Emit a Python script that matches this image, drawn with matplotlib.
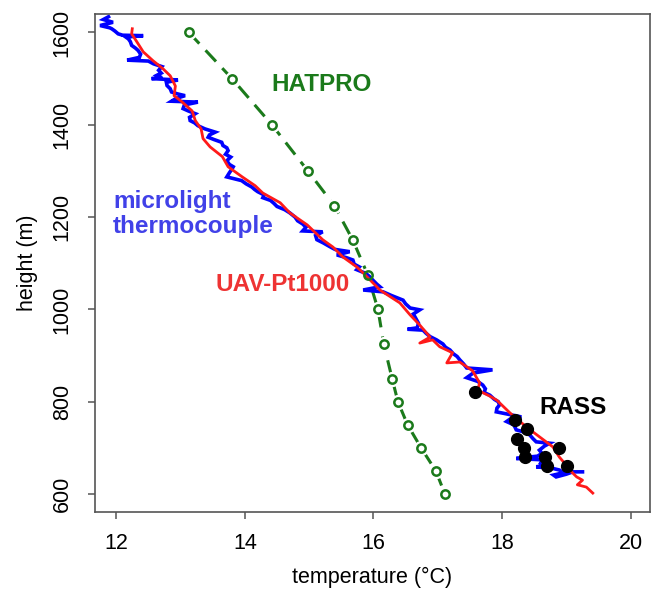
import matplotlib
matplotlib.use('Agg')
import matplotlib.pyplot as plt

plt.rcParams['font.family'] = ['Liberation Sans', 'DejaVu Sans']

# microlight thermocouple profile (temperature degC, height m)
micro_t = [11.88, 11.80, 11.95, 11.75, 11.90, 11.93, 11.98, 12.03, 12.10, 12.42,
           12.15, 12.19, 12.22, 12.24, 12.30, 12.34, 12.38, 12.36, 12.17, 12.50,
           12.58, 12.71, 12.66, 12.70, 12.63, 12.71, 12.55, 12.96, 12.78, 12.79,
           12.84, 12.86, 12.95, 13.07, 12.93, 12.86, 13.27, 13.06, 13.04, 13.12,
           13.23, 13.14, 13.15, 13.22, 13.27, 13.38, 13.54, 13.45, 13.43, 13.52,
           13.64, 13.66, 13.72, 13.74, 13.70, 13.78, 13.72, 13.76, 13.82, 13.80,
           13.76, 13.72, 13.95, 14.02, 14.11, 14.15, 14.20, 14.30, 14.28, 14.40,
           14.45, 14.50, 14.62, 14.70, 14.78, 14.82, 14.90, 14.95, 14.90, 15.21,
           15.10, 15.12, 15.22, 15.32, 15.40, 15.63, 15.43, 15.58, 15.68, 15.70,
           15.78, 15.74, 15.88, 15.94, 16.00, 16.05, 16.10, 15.84, 16.15, 16.28,
           16.46, 16.50, 16.57, 16.72, 16.62, 16.66, 16.70, 16.68, 16.53, 16.77,
           16.82, 16.88, 16.98, 17.08, 17.12, 17.19, 17.24, 17.30, 17.34, 17.40,
           17.45, 17.85, 17.55, 17.45, 17.62, 17.70, 17.74, 17.72, 17.81, 17.88,
           17.94, 17.96, 17.92, 17.91, 18.16, 18.30, 18.12, 18.07, 18.18, 18.20,
           18.22, 18.35, 18.43, 18.48, 18.53, 18.74, 18.66, 18.58, 18.62, 18.55,
           18.22, 18.63, 18.60, 18.70, 18.53, 18.80, 18.89, 18.95, 18.80, 18.84,
           19.00, 19.10, 19.25]
micro_h = [1634, 1628, 1622, 1615, 1610, 1608, 1603, 1597, 1594, 1593,
           1590, 1586, 1580, 1572, 1566, 1561, 1553, 1546, 1540, 1538,
           1532, 1526, 1518, 1512, 1507, 1502, 1500, 1497, 1492, 1485,
           1478, 1471, 1467, 1463, 1457, 1451, 1449, 1443, 1435, 1430,
           1424, 1416, 1409, 1404, 1398, 1391, 1384, 1378, 1373, 1368,
           1362, 1355, 1350, 1344, 1336, 1330, 1322, 1314, 1309, 1304,
           1296, 1287, 1279, 1272, 1265, 1260, 1255, 1248, 1242, 1236,
           1230, 1223, 1216, 1209, 1200, 1192, 1185, 1178, 1170, 1168,
           1160, 1151, 1144, 1136, 1130, 1125, 1118, 1112, 1107, 1098,
           1092, 1086, 1078, 1071, 1062, 1055, 1049, 1042, 1038, 1030,
           1020, 1012, 1003, 999, 990, 980, 970, 960, 957, 955,
           948, 941, 934, 925, 918, 912, 904, 898, 891, 882,
           873, 869, 862, 852, 844, 836, 828, 820, 814, 805,
           800, 793, 786, 778, 771, 767, 762, 757, 750, 745,
           739, 734, 728, 720, 713, 710, 704, 695, 688, 682,
           677, 674, 667, 662, 659, 655, 652, 646, 641, 637,
           643, 648, 648]

# UAV Pt1000 profile
uav_t = [12.25, 12.24, 12.32, 12.42, 12.57, 12.73, 12.84, 12.92, 12.90, 13.02,
         13.18, 13.23, 13.32, 13.35, 13.46, 13.65, 13.74, 13.96, 14.16, 14.28,
         14.55, 14.70, 14.97, 15.21, 15.37, 15.52, 15.74, 15.84, 16.10, 16.41,
         16.57, 16.72, 16.88, 16.72, 16.92, 17.03, 17.23, 17.14, 17.34, 17.54,
         17.65, 17.62, 17.81, 17.92, 18.12, 18.38, 18.58, 18.79, 18.89, 18.97,
         19.05, 19.16, 19.25, 19.17, 19.31, 19.41]
uav_h = [1608, 1597, 1580, 1558, 1539, 1521, 1506, 1484, 1463, 1450,
         1430, 1409, 1391, 1370, 1352, 1331, 1309, 1287, 1268, 1252,
         1231, 1209, 1183, 1151, 1135, 1114, 1092, 1079, 1042, 1014,
         988, 966, 940, 927, 934, 919, 906, 884, 886, 867,
         841, 825, 812, 803, 776, 745, 724, 702, 680, 667,
         652, 637, 630, 620, 615, 602]

# HATPRO retrieval
hat_t = [13.13, 13.80, 14.42, 14.98, 15.39, 15.68, 15.91, 16.07, 16.16, 16.29,
         16.38, 16.53, 16.74, 16.97, 17.11]
hat_h = [1600, 1500, 1400, 1300, 1225, 1150, 1075, 1000, 925, 850,
         800, 750, 700, 650, 600]

# RASS
rass_t = [17.58, 18.20, 18.38, 18.23, 18.34, 18.36, 18.88, 18.67, 18.70, 19.01]
rass_h = [820, 760, 740, 720, 700, 680, 700, 680, 660, 660]

green = '#1b7a1b'
fig = plt.figure(figsize=(6.51, 5.90), dpi=100)
ax = fig.add_axes([0.1459, 0.1322, 0.8526, 0.8441])

# dashed HATPRO line with small gaps round the points, like R's type="b"
ax.plot(hat_t, hat_h, color=green, lw=2.2, ls=(0, (5, 3)))
ax.plot(hat_t, hat_h, 'o', color='white', ms=10)
ax.plot(micro_t, micro_h, color='#0000ff', lw=2.6, solid_joinstyle='miter')
ax.plot(uav_t, uav_h, color='#ff1a1a', lw=2.0)
ax.plot(hat_t, hat_h, 'o', ms=6, mfc='none', mec=green, mew=1.8)
ax.plot(rass_t, rass_h, 'o', color='black', ms=8.5)

ax.text(15.20, 1487, 'HATPRO', color=green, fontsize=17.5, fontweight='bold',
        ha='center', va='center')
ax.text(11.95, 1207, 'microlight\nthermocouple', color='#4141e8', fontsize=17.5,
        fontweight='bold', ha='left', va='center', linespacing=1.1)
ax.text(13.54, 1053, 'UAV-Pt1000', color='#ee3333', fontsize=17.5,
        fontweight='bold', ha='left', va='center')
ax.text(18.58, 788, 'RASS', color='black', fontsize=17.5, fontweight='bold',
        ha='left', va='center')

ax.set_xlim(11.67, 20.30)
ax.set_ylim(561, 1640)
ax.set_xticks([12, 14, 16, 18, 20])
ax.set_yticks([600, 800, 1000, 1200, 1400, 1600])
for s in ax.spines.values():
    s.set_color('#555555')
    s.set_linewidth(1.2)
ax.tick_params(length=5, width=1.1, color='#555555', labelsize=15.5)
ax.tick_params(axis='x', pad=10)
ax.tick_params(axis='y', labelrotation=90, pad=11)
for lab in ax.get_yticklabels():
    lab.set_va('center')
ax.set_xlabel('temperature (°C)', fontsize=15.5)
ax.set_ylabel('height (m)', fontsize=15.5)
ax.xaxis.set_label_coords(0.5, -0.11)
ax.yaxis.set_label_coords(-0.103, 0.5)

fig.savefig('out.png', dpi=100)
